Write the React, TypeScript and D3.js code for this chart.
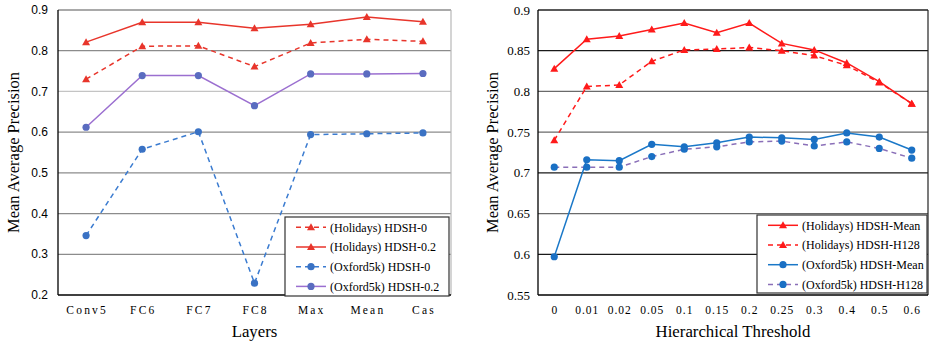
import React from 'react';
import * as d3 from 'd3';

// left panel: layers
const layers = ['Conv5', 'FC6', 'FC7', 'FC8', 'Max', 'Mean', 'Cas'];
const holidays0 = [0.730, 0.811, 0.812, 0.761, 0.819, 0.828, 0.823];
const holidays02 = [0.821, 0.870, 0.870, 0.855, 0.865, 0.883, 0.871];
const oxford0 = [0.346, 0.558, 0.601, 0.229, 0.594, 0.596, 0.598];
const oxford02 = [0.612, 0.739, 0.739, 0.665, 0.743, 0.743, 0.744];
const leftTicks = [0.2, 0.3, 0.4, 0.5, 0.6, 0.7, 0.8, 0.9];

// right panel: hierarchical threshold
const thresholds = ['0', '0.01', '0.02', '0.05', '0.1', '0.15', '0.2', '0.25', '0.3', '0.4', '0.5', '0.6'];
const holidaysMean = [0.828, 0.864, 0.868, 0.876, 0.884, 0.872, 0.884, 0.859, 0.851, 0.835, 0.812, 0.785];
const holidaysH128 = [0.740, 0.806, 0.808, 0.837, 0.851, 0.852, 0.854, 0.850, 0.844, 0.832, 0.811, 0.785];
const oxfordMean = [0.597, 0.716, 0.715, 0.735, 0.732, 0.737, 0.744, 0.743, 0.741, 0.749, 0.744, 0.728];
const oxfordH128 = [0.707, 0.707, 0.707, 0.720, 0.729, 0.732, 0.738, 0.739, 0.733, 0.738, 0.730, 0.718];
const rightTicks = [0.55, 0.6, 0.65, 0.7, 0.75, 0.8, 0.85, 0.9];

type Series = {
  name: string;
  values: number[];
  color: string;
  markerColor: string;
  dashed: boolean;
  marker: 'triangle' | 'circle';
};

const SERIF = "'Liberation Serif', 'Times New Roman', serif";
const SANS = "'Liberation Sans', Arial, sans-serif";

const Marker = ({ x, y, kind, color }: { x: number; y: number; kind: string; color: string }) => {
  if (kind === 'triangle') {
    const s = 4;
    return <path d={`M${x},${y - s}L${x + s},${y + s * 0.75}L${x - s},${y + s * 0.75}Z`} fill={color} />;
  }
  return <circle cx={x} cy={y} r={3.6} fill={color} />;
};

const Panel = (props: {
  left: number;
  right: number;
  top: number;
  bottom: number;
  categories: string[];
  domain: [number, number];
  ticks: number[];
  tickFmt: (v: number) => string;
  tickFont: string;
  tickSize: number;
  tickGap: number;
  series: Series[];
  xTitle: string;
  yTitleX: number;
  gridColor: (t: number) => string;
  topColor: string;
  borderColor: string;
  legend: { x: number; y: number; w: number; h: number };
  letterSpacing: number;
}) => {
  const { left, right, top, bottom, categories, domain, ticks, series, legend } = props;
  const x = d3.scalePoint<string>().domain(categories).range([left, right]).padding(0.5);
  const y = d3.scaleLinear().domain(domain).range([bottom, top]);
  const line = d3
    .line<number>()
    .x((_, i) => x(categories[i]) as number)
    .y((d) => y(d));

  return (
    <g>
      {ticks.map((t, i) => (
        <g key={t}>
          {i > 0 && i < ticks.length - 1 && (
            <line x1={left} x2={right} y1={y(t)} y2={y(t)} stroke={props.gridColor(t)} strokeWidth={1.2} />
          )}
          <text
            x={left - props.tickGap}
            y={y(t)}
            dy="0.35em"
            textAnchor="end"
            fontSize={props.tickSize}
            style={{ fontFamily: props.tickFont }}
          >
            {props.tickFmt(t)}
          </text>
        </g>
      ))}
      <line x1={left} x2={right} y1={top} y2={top} stroke={props.topColor} strokeWidth={1.3} />
      <line x1={right} x2={right} y1={top} y2={bottom} stroke={props.borderColor} strokeWidth={1.2} />
      <line x1={left} x2={left} y1={top} y2={bottom} stroke="#000" strokeWidth={1.3} />
      <line x1={left} x2={right} y1={bottom} y2={bottom} stroke="#000" strokeWidth={1.3} />
      {categories.map((c) => (
        <text
          key={c}
          x={(x(c) as number) + props.letterSpacing / 2}
          y={bottom + 15}
          dy="0.35em"
          textAnchor="middle"
          fontSize={11.5}
          letterSpacing={props.letterSpacing}
        >
          {c}
        </text>
      ))}
      <text x={(left + right) / 2} y={bottom + 36} dy="0.35em" textAnchor="middle" fontSize={16.8}>
        {props.xTitle}
      </text>
      <text
        transform={`translate(${props.yTitleX},${(top + bottom) / 2}) rotate(-90)`}
        textAnchor="middle"
        dy="0.35em"
        fontSize={16.5}
      >
        Mean Average Precision
      </text>
      {series.map((s) => (
        <g key={s.name}>
          <path
            d={line(s.values) || ''}
            fill="none"
            stroke={s.color}
            strokeWidth={1.5}
            strokeDasharray={s.dashed ? '5,4' : undefined}
          />
          {s.values.map((v, i) => (
            <Marker key={i} x={x(categories[i]) as number} y={y(v)} kind={s.marker} color={s.markerColor} />
          ))}
        </g>
      ))}
      <rect
        x={legend.x}
        y={legend.y}
        width={legend.w}
        height={legend.h}
        fill="#fff"
        stroke="#333"
        strokeWidth={1.2}
      />
      {series.map((s, i) => {
        const ly = legend.y + 10.3 + i * 19.7;
        const lx = legend.x + 11;
        return (
          <g key={s.name}>
            <line
              x1={lx}
              x2={lx + 30}
              y1={ly}
              y2={ly}
              stroke={s.color}
              strokeWidth={1.5}
              strokeDasharray={s.dashed ? '5,4' : undefined}
            />
            <Marker x={lx + 15} y={ly} kind={s.marker} color={s.markerColor} />
            <text x={lx + 34} y={ly} dy="0.35em" fontSize={12}>
              {s.name}
            </text>
          </g>
        );
      })}
    </g>
  );
};

const App = () => {
  const leftSeries: Series[] = [
    { name: '(Holidays) HDSH-0', values: holidays0, color: '#e8352b', markerColor: '#e8352b', dashed: true, marker: 'triangle' },
    { name: '(Holidays) HDSH-0.2', values: holidays02, color: '#e8352b', markerColor: '#e8352b', dashed: false, marker: 'triangle' },
    { name: '(Oxford5k) HDSH-0', values: oxford0, color: '#3a7bd0', markerColor: '#3a72c4', dashed: true, marker: 'circle' },
    { name: '(Oxford5k) HDSH-0.2', values: oxford02, color: '#9b6fd0', markerColor: '#5a6cc0', dashed: false, marker: 'circle' },
  ];
  const rightSeries: Series[] = [
    { name: '(Holidays) HDSH-Mean', values: holidaysMean, color: '#ff1a1a', markerColor: '#ff1a1a', dashed: false, marker: 'triangle' },
    { name: '(Holidays) HDSH-H128', values: holidaysH128, color: '#ff1a1a', markerColor: '#ff1a1a', dashed: true, marker: 'triangle' },
    { name: '(Oxford5k) HDSH-Mean', values: oxfordMean, color: '#1a78c8', markerColor: '#1a70c4', dashed: false, marker: 'circle' },
    { name: '(Oxford5k) HDSH-H128', values: oxfordH128, color: '#8a6fb8', markerColor: '#1a70c4', dashed: true, marker: 'circle' },
  ];

  return (
    <div style={{ position: 'absolute', left: 0, top: 0 }}>
      <svg width={930} height={345} style={{ display: 'block', background: '#fff', fontFamily: SERIF }}>
        <Panel
          left={58}
          right={451}
          top={10}
          bottom={295}
          categories={layers}
          domain={[0.2, 0.9]}
          ticks={leftTicks}
          tickFmt={(v) => d3.format('.1f')(v)}
          tickFont={SANS}
          tickSize={12}
          tickGap={10}
          series={leftSeries}
          xTitle="Layers"
          yTitleX={13}
          gridColor={(t) => (Math.abs(t - 0.7) < 1e-9 ? '#c4c4c4' : '#8c8c8c')}
          topColor="#8c8c8c"
          borderColor="#b8b8b8"
          legend={{ x: 285, y: 217, w: 164, h: 79 }}
          letterSpacing={2.2}
        />
        <Panel
          left={538}
          right={928}
          top={10}
          bottom={295}
          categories={thresholds}
          domain={[0.55, 0.9]}
          ticks={rightTicks}
          tickFmt={(v) => d3.format('')(+v.toFixed(2))}
          tickFont={SERIF}
          tickSize={13}
          tickGap={8}
          series={rightSeries}
          xTitle="Hierarchical Threshold"
          yTitleX={492}
          gridColor={(t) => ([0.85, 0.7, 0.6].some((g) => Math.abs(g - t) < 1e-9) ? '#1a1a1a' : '#6a6a6a')}
          topColor="#222"
          borderColor="#222"
          legend={{ x: 757, y: 215, w: 170, h: 78 }}
          letterSpacing={1}
        />
      </svg>
    </div>
  );
};

export default App;
